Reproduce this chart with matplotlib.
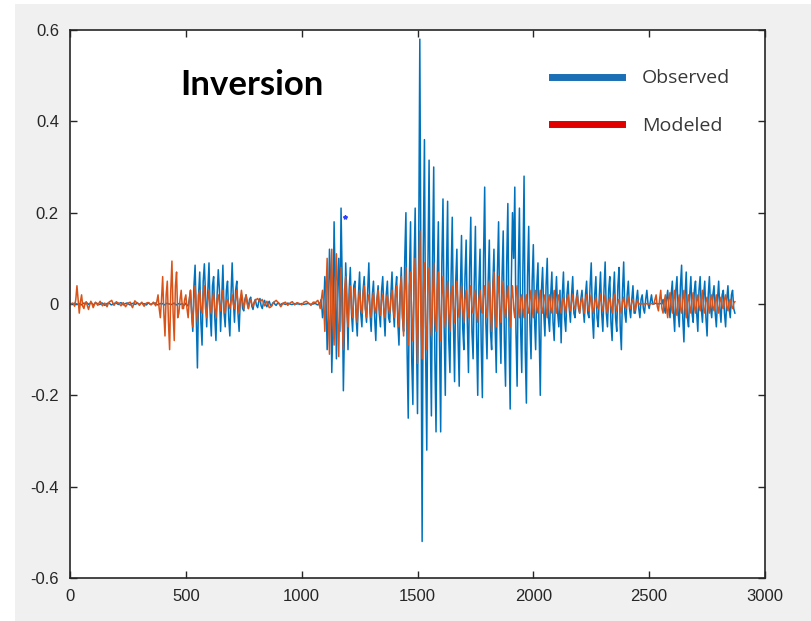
"""Observed vs. modeled waveform (inversion result), MATLAB-style look."""

import matplotlib
matplotlib.use("Agg")  # headless
import matplotlib.pyplot as plt
import numpy as np
from matplotlib.lines import Line2D
from matplotlib.patches import Rectangle

# ---- data (one sample every 5 time steps) ----
T_STEP = 5

observed = [
    0, 0, 0.001, 0, 0.002, 0.001, -0.001, 0, 0.001, -0.001, -0.002, 0.001, 0.002, 0, 0.001, 0.002, -0.001, 0.001, 0.002, 0.001,
    -0.002, 0, 0.003, 0.001, 0.001, -0.001, -0.001, 0.002, 0.002, 0, -0.003, -0.001, 0.001, 0.002, 0.002, -0.001, -0.002, 0, 0.001, 0.002,
    0.002, 0, -0.001, 0.002, 0.003, 0.001, -0.002, 0, 0.001, 0.002, 0.002, -0.001, -0.002, 0.001, 0.001, 0.002, -0.001, 0, 0.002, 0.001,
    -0.001, 0.001, 0.002, 0, 0.001, -0.001, -0.002, 0.001, 0.002, 0, -0.001, 0.001, 0.001, 0.002, 0.002, -0.001, -0.002, 0, 0.001, 0,
    0.001, -0.001, -0.002, 0.001, 0.002, 0, 0, -0.001, -0.001, 0.001, 0.002, -0.001, -0.002, 0, 0.001, -0.001, 0, 0.001, -0.003, -0.002,
    0.002, -0.003, -0.004, 0.01, 0.03, -0.02, -0.06, 0.04, 0.085, -0.03, -0.14, 0.02, 0.07, -0.04, -0.09, 0.05, 0.088, 0.02, -0.05, 0.03,
    0.09, -0.02, -0.07, 0.04, 0.06, -0.03, -0.08, 0.02, 0.075, 0.03, -0.06, 0.01, 0.085, -0.02, -0.05, 0.03, 0.05, -0.03, -0.07, 0.02,
    0.09, 0.01, -0.04, 0.03, 0.05, -0.02, -0.06, 0.01, 0.02, -0.01, -0.015, 0.01, 0.02, 0.005, -0.01, 0.01, 0.015, -0.005, -0.012, 0.004,
    0.01, -0.003, -0.008, 0.006, 0.012, -0.004, -0.01, 0.003, 0.008, -0.002, -0.006, 0.002, 0.006, -0.002, -0.004, 0.002, 0.004, -0.001, -0.003, 0.001,
    0.002, 0, -0.002, 0.001, 0.001, 0, -0.001, 0, 0.002, 0.001, 0, -0.001, -0.001, 0, 0.001, 0, 0, 0.001, -0.001, 0,
    0.001, 0, -0.001, 0, 0, 0.001, 0.001, 0, -0.001, 0, 0, 0.001, 0.001, -0.001, -0.002, 0.001, 0.003, 0.01, -0.03, -0.01,
    0.06, 0.02, -0.1, -0.03, 0.12, 0.05, -0.15, -0.04, 0.18, 0.03, -0.12, 0.04, 0.1, -0.06, 0.21, 0.05, -0.19, -0.05, 0.09, 0.02,
    -0.1, 0.03, 0.08, -0.02, -0.06, 0.04, 0.05, -0.03, -0.07, 0.02, 0.07, -0.02, -0.05, 0.03, 0.06, -0.01, -0.04, 0.03, 0.09, -0.02,
    -0.06, 0.02, 0.05, -0.03, -0.08, 0.01, 0.04, -0.02, -0.05, 0.03, 0.06, -0.02, -0.07, 0.02, 0.05, -0.03, -0.04, 0.02, 0.07, -0.01,
    -0.05, 0.03, 0.06, -0.04, -0.09, 0.02, 0.08, -0.03, -0.06, 0.1, 0.2, -0.1, -0.25, 0.06, 0.18, -0.12, -0.22, 0.08, 0.21, -0.05,
    -0.24, 0.1, 0.58, 0.05, -0.52, 0.12, 0.36, -0.1, -0.32, 0.08, 0.315, -0.06, -0.245, 0.1, 0.30, -0.12, -0.28, 0.05, 0.18, -0.08,
    -0.28, 0.09, 0.23, -0.05, -0.2, 0.07, 0.225, -0.08, -0.15, 0.06, 0.19, -0.04, -0.17, 0.05, 0.12, -0.07, -0.18, 0.03, 0.15, -0.05,
    -0.1, 0.06, 0.14, -0.04, -0.15, 0.08, 0.19, -0.06, -0.12, 0.05, 0.17, -0.07, -0.2, 0.04, 0.12, -0.09, -0.205, 0.1, 0.256, -0.04,
    -0.12, 0.05, 0.14, -0.06, -0.1, 0.04, 0.12, -0.05, -0.15, 0.07, 0.18, -0.03, -0.13, 0.06, 0.16, -0.08, -0.18, 0.09, 0.22, -0.06,
    -0.23, 0.05, 0.2, 0.1, 0.256, -0.06, -0.18, 0.07, 0.21, -0.05, -0.15, 0.08, 0.28, -0.1, -0.217, 0.06, 0.17, -0.04, -0.12, 0.05,
    0.13, -0.03, -0.1, 0.04, 0.09, -0.06, -0.2, 0.03, 0.08, -0.02, -0.07, 0.04, 0.1, -0.03, -0.06, 0.02, 0.07, -0.04, -0.08, 0.01,
    0.06, -0.02, -0.05, 0.03, -0.085, 0.02, 0.07, -0.03, -0.06, 0.02, 0.05, -0.01, -0.04, 0.02, 0.06, -0.02, -0.03, 0.01, 0.03, -0.01,
    -0.02, 0.01, 0.03, -0.01, -0.04, 0.02, 0.05, -0.02, -0.03, 0.04, 0.09, -0.03, -0.075, 0.02, 0.06, -0.03, -0.05, 0.02, 0.07, -0.02,
    -0.06, 0.03, 0.092, -0.02, -0.05, 0.03, 0.06, -0.04, -0.08, 0.02, 0.07, -0.03, -0.06, 0.04, 0.08, -0.05, -0.1, 0.03, 0.092, -0.02,
    -0.04, 0.02, 0.05, -0.01, -0.03, 0.01, 0.04, -0.02, -0.02, 0.01, 0.03, -0.01, -0.03, 0.01, 0.02, -0.01, -0.02, 0.01, 0.03, 0.0,
    -0.01, 0.005, 0.02, 0.0, 0.0, 0.001, 0.002, 0.0, 0.0, 0.001, 0.001, 0.0, 0.01, -0.01, -0.02, 0.01, 0.03, -0.01, -0.03, 0.02,
    0.05, -0.02, -0.06, 0.03, 0.06, -0.02, -0.05, 0.04, 0.085, -0.03, -0.083, 0.02, 0.07, -0.03, -0.05, 0.02, 0.06, -0.02, -0.04, 0.03,
    0.05, -0.02, -0.06, 0.03, 0.06, -0.01, -0.04, 0.02, 0.05, -0.03, -0.07, 0.02, 0.06, -0.01, -0.03, 0.02, 0.04, -0.02, -0.05, 0.01,
    0.05, -0.01, -0.04, 0.02, 0.03, -0.02, -0.05, 0.01, 0.04, -0.01, -0.03, 0.02, 0.03, -0.01, -0.02,
]

modeled = [
    0, 0, 0.002, 0.001, -0.005, 0.01, 0.04, 0.01, -0.02, 0.005, 0.02, -0.005, -0.01, 0.002, 0.005, -0.004, -0.012, -0.002, 0.006, 0.001,
    -0.008, -0.002, 0.004, 0.001, -0.003, 0.002, 0.006, 0.001, -0.004, -0.001, 0.002, -0.002, -0.006, 0.001, 0.005, 0.006, 0.008, 0.002, -0.003, 0.001,
    0.005, 0.003, 0.002, -0.001, -0.004, 0.0, 0.003, -0.002, -0.006, -0.002, 0.001, 0.003, 0.004, -0.003, -0.008, 0.0, 0.007, 0.004, 0.003, 0.0,
    -0.003, 0.001, 0.004, -0.001, -0.005, 0.0, 0.002, 0.003, 0.003, 0.0, -0.002, 0.001, 0.004, 0.0, -0.004, 0.006, 0.02, -0.01, -0.03, 0.01,
    0.06, -0.02, -0.07, 0.02, 0.05, -0.04, -0.1, 0.03, 0.094, -0.02, -0.08, 0.04, 0.07, -0.03, -0.02, 0.01, 0.03, -0.01, -0.01, 0.01,
    0.02, -0.01, -0.03, 0.01, 0.03, -0.02, -0.05, 0.01, 0.04, -0.01, -0.04, 0.02, 0.03, -0.01, -0.02, 0.02, 0.04, -0.01, -0.03, 0.01,
    0.03, -0.01, -0.02, 0.01, 0.025, -0.01, -0.03, 0.01, 0.02, 0.0, -0.015, 0.01, 0.03, -0.01, -0.02, 0.005, 0.01, 0.0, -0.01, 0.005,
    0.02, 0.0, -0.01, 0.01, 0.03, 0.0, -0.02, 0.01, 0.03, 0.01, -0.01, 0.005, 0.02, 0.0, -0.01, 0.003, 0.01, 0.0, -0.005, 0.002,
    0.008, 0.01, 0.012, 0.008, 0.005, 0.007, 0.01, 0.003, -0.004, 0.001, 0.006, 0.0, -0.008, -0.007, -0.005, 0.0, 0.004, 0.006, 0.008, 0.005,
    0.003, -0.002, -0.006, -0.002, 0.002, 0.003, 0.004, 0.0, -0.003, 0.0, 0.002, 0.004, 0.005, 0.001, -0.002, 0.001, 0.003, 0.002, 0.001, 0.0,
    -0.002, 0.001, 0.004, 0.005, 0.006, 0.004, 0.002, 0.0, -0.003, 0.001, 0.004, 0.004, 0.003, 0.006, 0.008, 0.0, -0.01, 0.01, 0.03, 0.0,
    -0.06, 0.02, 0.1, -0.02, -0.11, 0.03, 0.12, -0.04, -0.09, 0.05, 0.11, -0.03, -0.115, 0.02, 0.08, -0.04, -0.1, 0.03, 0.06, -0.02,
    -0.05, 0.01, 0.04, -0.01, -0.03, 0.02, 0.035, -0.01, -0.04, 0.01, 0.03, -0.01, -0.02, 0.02, 0.04, -0.01, -0.03, 0.01, 0.02, -0.01,
    -0.03, 0.01, 0.025, -0.01, -0.02, 0.01, 0.03, -0.01, -0.025, 0.01, 0.02, -0.01, -0.03, 0.01, 0.02, -0.01, -0.02, 0.01, 0.03, -0.01,
    -0.03, 0.02, 0.04, -0.02, -0.05, 0.03, 0.06, -0.02, -0.07, 0.03, 0.08, -0.03, -0.09, 0.04, 0.07, -0.03, -0.08, 0.04, 0.1, -0.02,
    -0.13, 0.05, 0.16, -0.04, -0.12, 0.03, 0.09, -0.05, -0.1, 0.04, 0.08, -0.03, -0.07, 0.02, 0.09, -0.03, -0.06, 0.03, 0.07, -0.02,
    -0.08, 0.02, 0.06, -0.02, -0.05, 0.01, 0.05, -0.02, -0.06, 0.02, 0.04, -0.01, -0.04, 0.02, 0.05, -0.01, -0.03, 0.01, 0.04, -0.01,
    -0.04, 0.01, 0.03, -0.01, -0.03, 0.02, 0.04, -0.01, -0.02, 0.01, 0.03, -0.02, -0.04, 0.01, 0.03, -0.01, -0.02, 0.02, 0.04, -0.01,
    -0.03, 0.02, 0.05, -0.02, -0.06, 0.03, 0.07, -0.02, -0.05, 0.02, 0.06, -0.01, -0.04, 0.02, 0.05, -0.01, -0.03, 0.01, 0.04, -0.01,
    -0.05, 0.01, 0.04, -0.01, -0.03, 0.02, 0.04, -0.01, -0.03, 0.01, 0.02, -0.01, -0.03, 0.01, 0.02, -0.01, -0.02, 0.01, 0.03, -0.01,
    -0.03, 0.01, 0.03, -0.01, -0.02, 0.01, 0.03, -0.01, -0.02, 0.01, 0.02, -0.01, -0.03, 0.01, 0.02, -0.01, -0.02, 0.01, 0.03, -0.01,
    -0.02, 0.01, 0.02, -0.01, -0.02, 0.005, 0.015, -0.005, -0.02, 0.01, 0.02, -0.005, -0.015, 0.005, 0.02, -0.005, -0.01, 0.005, 0.02, -0.005,
    -0.02, 0.005, 0.015, -0.005, -0.02, 0.01, 0.02, -0.005, -0.015, 0.005, 0.02, -0.01, -0.02, 0.005, 0.015, -0.005, -0.01, 0.005, 0.02, -0.005,
    -0.015, 0.005, 0.02, -0.01, -0.02, 0.005, 0.015, -0.005, -0.02, 0.01, 0.02, -0.005, -0.015, 0.005, 0.01, -0.01, -0.02, 0.005, 0.015, -0.005,
    -0.01, 0.005, 0.015, -0.005, -0.01, 0.005, 0.01, -0.005, -0.015, 0.0, 0.01, 0.0, 0.0, 0.0, 0.001, 0.0, 0.0, 0.0, 0.001, 0.0,
    0.0, 0.0, 0.001, 0.0, 0.0, 0.01, 0.02, -0.005, -0.015, 0.01, 0.03, -0.01, -0.02, 0.005, 0.02, -0.01, -0.03, 0.01, 0.025, -0.005,
    -0.02, 0.01, 0.03, -0.01, -0.025, 0.005, 0.02, -0.01, -0.02, 0.01, 0.03, -0.01, -0.03, 0.005, 0.02, -0.005, -0.02, 0.01, 0.025, -0.005,
    -0.02, 0.005, 0.02, -0.005, -0.015, 0.01, 0.03, -0.01, -0.02, 0.005, 0.015, -0.005, -0.02, 0.01, 0.02, -0.005, -0.015, 0.005, 0.02, -0.005,
    -0.02, 0.005, 0.015, -0.005, -0.01, 0.01, 0.02, -0.005, -0.015, 0.005, 0.01, -0.005, -0.01, 0.002, 0.005,
]

# stray marker left in the original figure
stray_t = [1187]
stray_v = [0.19]

x_ticks = [0, 500, 1000, 1500, 2000, 2500, 3000]
y_ticks = [-0.6, -0.4, -0.2, 0, 0.2, 0.4, 0.6]

BLUE = "#0072BD"
ORANGE = "#D95319"
TICK_COLOR = "#262626"


def main() -> None:
    t_obs = np.arange(len(observed)) * T_STEP
    t_mod = np.arange(len(modeled)) * T_STEP

    fig = plt.figure(figsize=(8.12, 6.21), dpi=100, facecolor="white")
    # gray MATLAB figure background (screenshot leaves a thin white strip left/top)
    fig.patches.append(Rectangle((15 / 812, 0), 1, 1 - 4 / 621,
                                 transform=fig.transFigure, facecolor="#f0f0f0",
                                 edgecolor="none", zorder=-10))

    ax = fig.add_axes([70 / 812, 43 / 621, 695 / 812, 548 / 621])
    ax.set_facecolor("white")

    ax.plot(t_obs, observed, color=BLUE, linewidth=1.1)
    ax.plot(t_mod, modeled, color=ORANGE, linewidth=1.1)
    ax.plot(stray_t, stray_v, "*", color="#3040ff", markersize=3)

    ax.set_xlim(0, 3000)
    ax.set_ylim(-0.6, 0.6)
    ax.set_xticks(x_ticks)
    ax.set_yticks(y_ticks)
    ax.set_yticklabels([f"{v:g}" for v in y_ticks])
    ax.tick_params(direction="in", top=True, right=True, length=5, width=1,
                   colors=TICK_COLOR, labelsize=12, pad=8)
    for lab in ax.get_xticklabels() + ax.get_yticklabels():
        lab.set_family("Liberation Sans")
    for sp in ax.spines.values():
        sp.set_color(TICK_COLOR)
        sp.set_linewidth(1.2)

    ax.text(0.262, 0.9, "Inversion", transform=ax.transAxes, ha="center", va="center",
            fontsize=25, fontweight="bold", family="Lato", color="black")

    handles = [Line2D([], [], color="#1a6fb5", linewidth=5),
               Line2D([], [], color="#e00000", linewidth=5)]
    leg = ax.legend(handles, ["Observed", "Modeled"], loc="upper right",
                    bbox_to_anchor=(0.975, 0.96), frameon=False,
                    prop={"family": "Open Sans", "size": 14},
                    handlelength=3.6, handletextpad=1.0, labelspacing=1.5)
    for txt in leg.get_texts():
        txt.set_color("#383838")

    fig.savefig("out.png", dpi=100)
    plt.close(fig)


if __name__ == "__main__":
    main()
